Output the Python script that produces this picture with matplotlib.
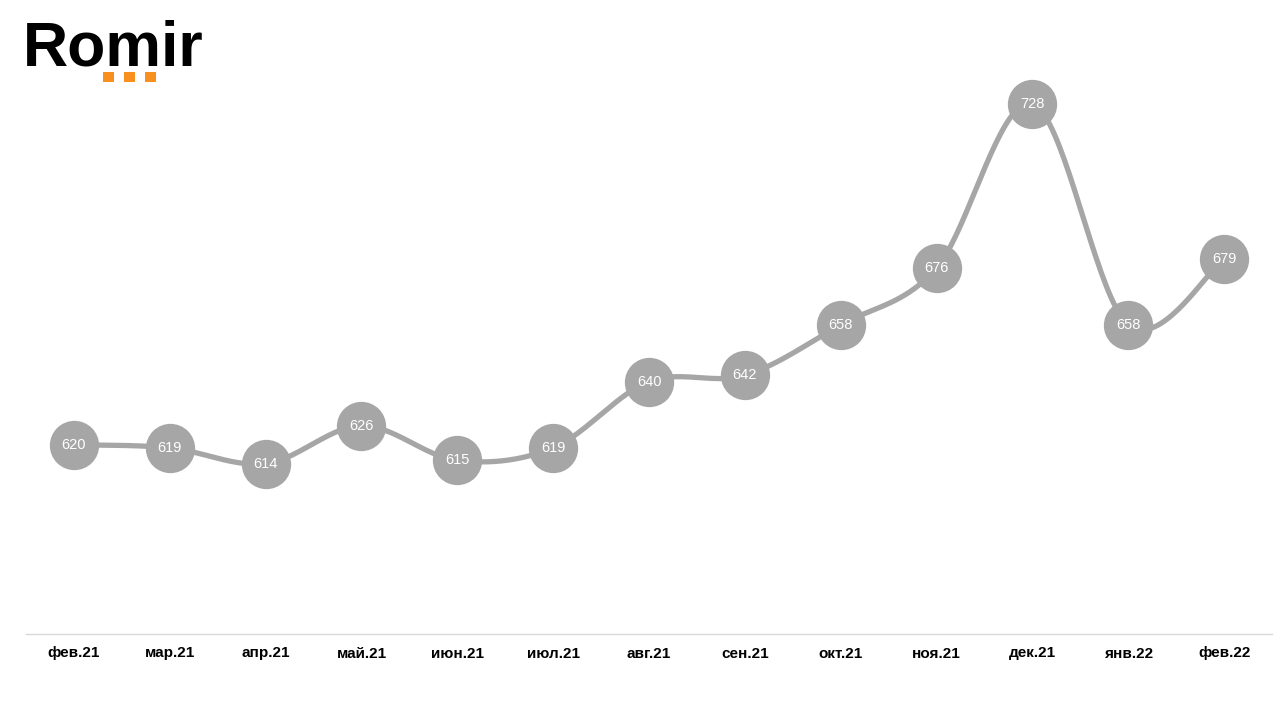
import numpy as np
import matplotlib.pyplot as plt
import matplotlib.transforms as mtransforms
from matplotlib.patches import Rectangle

plt.rcParams['font.family'] = ['Liberation Sans', 'DejaVu Sans']

months = ['фев.21', 'мар.21', 'апр.21', 'май.21', 'июн.21', 'июл.21', 'авг.21',
          'сен.21', 'окт.21', 'ноя.21', 'дек.21', 'янв.22', 'фев.22']
values = [620, 619, 614, 626, 615, 619, 640, 642, 658, 676, 728, 658, 679]

GREY = '#A6A6A6'


def smooth_curve(xs, ys, steps=40):
    # Catmull-Rom style smoothing (like Excel's "smoothed line")
    p = np.column_stack([xs, ys]).astype(float)
    p = np.vstack([p[0], p, p[-1]])
    out = []
    t = np.linspace(0, 1, steps)[:, None]
    for i in range(1, len(p) - 2):
        p0, p1, p2, p3 = p[i - 1], p[i], p[i + 1], p[i + 2]
        b1 = p1 + (p2 - p0) / 6
        b2 = p2 - (p3 - p1) / 6
        seg = ((1 - t) ** 3) * p1 + 3 * ((1 - t) ** 2) * t * b1 + 3 * (1 - t) * t ** 2 * b2 + t ** 3 * p2
        out.append(seg)
    out = np.vstack(out)
    return out[:, 0], out[:, 1]


fig = plt.figure(figsize=(12.8, 7.2), dpi=100)
ax_h = 631
ax = fig.add_axes([26 / 1280, 1 - 634 / 720, 1246 / 1280, ax_h / 720])

x = np.arange(len(months))
sx, sy = smooth_curve(x, values)
ax.plot(sx, sy, color=GREY, lw=3.8, solid_capstyle='round', zorder=2)
ax.plot(x, values, 'o', color=GREY, markersize=35.5, markeredgewidth=0, zorder=3)
for xi, v in zip(x, values):
    ax.text(xi, v, str(v), ha='center', va='center', color='white', fontsize=10.5, zorder=4)

ax.set_xlim(-0.5, len(months) - 0.5)
ax.set_ylim(560, 760)
ax.set_xticks([])
ax.set_yticks([])
for s in ['top', 'right', 'left']:
    ax.spines[s].set_visible(False)
ax.spines['bottom'].set_color('#D9D9D9')
ax.spines['bottom'].set_linewidth(1)

# month labels on a common baseline
trans = mtransforms.blended_transform_factory(ax.transData, ax.transAxes)
for xi, m in zip(x, months):
    ax.text(xi, -(657.5 - 634) / ax_h, m, transform=trans, ha='center', va='baseline',
            fontsize=11, fontweight='bold', color='black', clip_on=False)

# logo
fig.text(23 / 1280, 1 - 65 / 720, 'Romir', fontsize=45, fontweight='bold',
         color='black', ha='left', va='baseline')
for sx0 in [103, 124, 145]:
    fig.patches.append(Rectangle((sx0 / 1280, 1 - 82 / 720), 11 / 1280, 10 / 720,
                                 transform=fig.transFigure, color='#F7901E', lw=0))

fig.savefig('out.png', dpi=100, facecolor='white')
